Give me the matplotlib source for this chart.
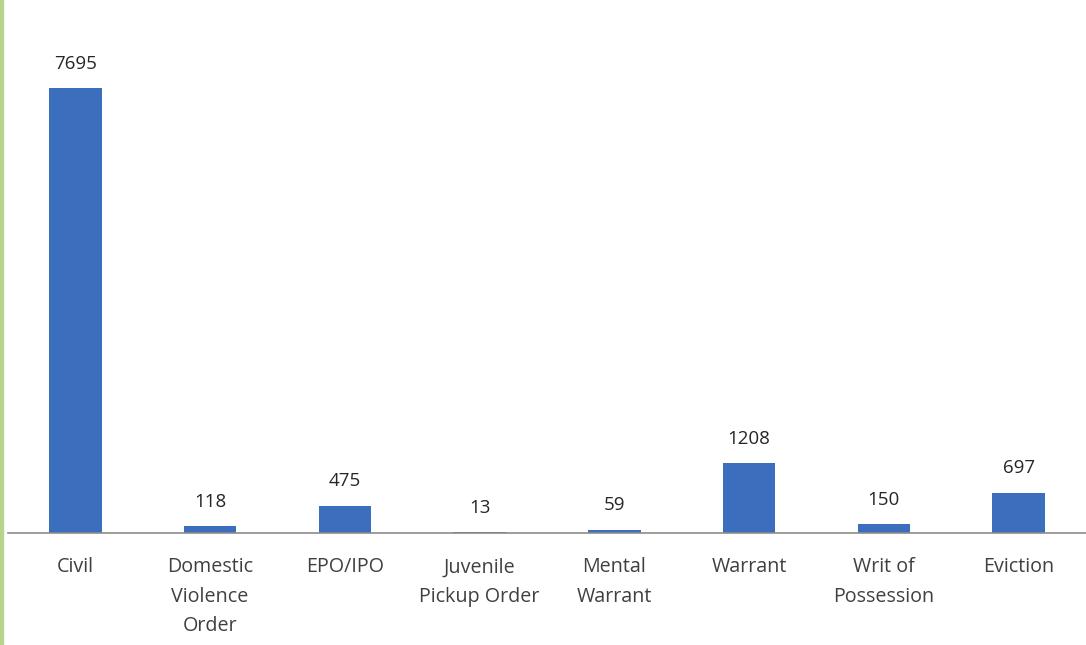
import matplotlib
matplotlib.use("Agg")
import matplotlib.pyplot as plt
from matplotlib.patches import Rectangle

categories = ["Civil", "Domestic\nViolence\nOrder", "EPO/IPO", "Juvenile\nPickup Order",
              "Mental\nWarrant", "Warrant", "Writ of\nPossession", "Eviction"]
values = [7695, 118, 475, 13, 59, 1208, 150, 697]

plt.rcParams['font.family'] = ['Open Sans', 'DejaVu Sans']

fig = plt.figure(figsize=(10.86, 6.45), dpi=100)
ax = fig.add_axes([8 / 1086, 112 / 645, 1 - 8 / 1086, 1 - 112 / 645])

x = list(range(len(categories)))
bars = ax.bar(x, values, width=0.39, color='#3b6ebd', zorder=2)

ax.set_xlim(-0.5, 7.5)
ax.set_ylim(0, 9217)
ax.set_yticks([])
ax.set_xticks(x)
ax.set_xticklabels(categories, fontsize=14.2, color='#404040', linespacing=1.62)
ax.tick_params(axis='x', length=0, pad=17.5)

for s in ['top', 'right', 'left']:
    ax.spines[s].set_visible(False)
ax.spines['bottom'].set_color('#8c8c8c')
ax.spines['bottom'].set_linewidth(1.2)

for xi, v in zip(x, values):
    ax.annotate(str(v), (xi, v), xytext=(0, 17.5), textcoords='offset points',
                ha='center', va='center', fontsize=13.5, color='#262626')

fig.patches.append(Rectangle((0, 0), 3 / 1086, 1, transform=fig.transFigure,
                             color='#b6d48c', zorder=10))

fig.savefig("out.png", dpi=100)
